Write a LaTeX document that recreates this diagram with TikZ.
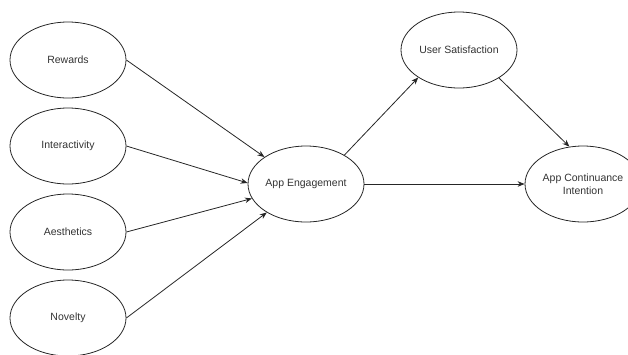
\documentclass[tikz,border=0pt]{standalone}
\usepackage{fontspec}
\setmainfont{Liberation Sans}
\usetikzlibrary{shapes.geometric,arrows.meta}
\begin{document}
\begin{tikzpicture}[x=1pt,y=-1pt,
  construct/.style={ellipse,draw=black!85,line width=0.8pt,minimum width=116pt,minimum height=76pt,inner sep=0pt,
    font=\fontsize{10.5}{13}\selectfont,text=black!80,align=center},
  link/.style={draw=black!85,line width=0.8pt,-{Stealth[length=7pt,width=5.5pt]}}]
\useasboundingbox (0,0) rectangle (628,354);
\node[construct] (rew) at (68,60) {Rewards};
\node[construct] (int) at (68,146) {Interactivity};
\node[construct] (aes) at (68,232) {Aesthetics};
\node[construct] (nov) at (68,318) {Novelty};
\node[construct] (eng) at (306,184) {App Engagement};
\node[construct] (sat) at (459,50) {User Satisfaction};
\node[construct] (con) at (583,184) {App Continuance\\Intention};
\draw[link] (rew.east) -- (eng.147);
\draw[link] (int.east) -- (eng.179);
\draw[link] (aes.east) -- (eng.195);
\draw[link] (nov.east) -- (eng.216);
\draw[link] (eng.37) -- (sat.214);
\draw[link] (eng.east) -- (con.west);
\draw[link] (sat.325) -- (con.110);
\end{tikzpicture}
\end{document}
